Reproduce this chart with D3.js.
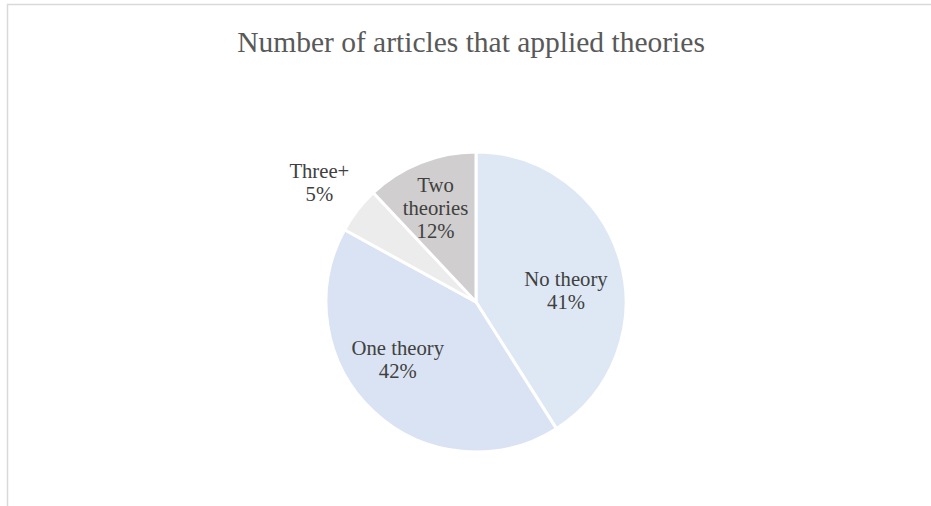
<!DOCTYPE html>
<html>
<head>
<meta charset="utf-8">
<script src="https://cdn.jsdelivr.net/npm/d3@7"></script>
<style>
  body { margin: 0; background: #fff; }
  svg text { font-family: "Liberation Serif", "Times New Roman", serif; }
</style>
</head>
<body>
<div id="chart"></div>
<script>
// data
var categories = ["No theory", "One theory", "Three+", "Two theories"];
var labelLines = [["No theory"], ["One theory"], ["Three+"], ["Two", "theories"]];
var percents = [41, 42, 5, 12];
var colors = ["#dee8f5", "#dae3f3", "#ececec", "#d0cece"];

var width = 931, height = 506;
var cx = 476, cy = 302, radius = 150;

// small label nudges (px) away from the centroid, like excel's best fit
var nudge = [[0, 15], [-14, -11], [-1, 1], [-6, -7]];

var svg = d3.select("#chart").append("svg")
    .attr("width", width)
    .attr("height", height);

// chart frame
svg.append("path")
    .attr("d", "M7.5,506 V4.5 H931")
    .attr("fill", "none")
    .attr("stroke", "#d9d9d9")
    .attr("stroke-width", 1.5);

// title
svg.append("text")
    .attr("x", 471)
    .attr("y", 52)
    .attr("text-anchor", "middle")
    .style("font-size", "29.5px")
    .style("fill", "#595959")
    .text("Number of articles that applied theories");

var pie = d3.pie().sort(null).value(function(d) { return d; });
var arcs = pie(percents);

var arc = d3.arc().innerRadius(0).outerRadius(radius);
var inner = d3.arc().innerRadius(0).outerRadius(radius * 1.25);   // centroid at ~94px
var outer = d3.arc().innerRadius(197).outerRadius(197);

var g = svg.append("g").attr("transform", "translate(" + cx + "," + cy + ")");

g.selectAll(".slice")
    .data(arcs)
  .enter().append("path")
    .attr("class", "slice")
    .attr("d", arc)
    .attr("fill", function(d, i) { return colors[i]; })
    .attr("stroke", "#fff")
    .attr("stroke-width", 3)
    .attr("stroke-linejoin", "round");

// labels
var lineH = 23;
var labels = g.selectAll(".lbl")
    .data(arcs)
  .enter().append("text")
    .attr("class", "lbl")
    .attr("text-anchor", "middle")
    .style("font-size", "20.7px")
    .style("fill", "#404040")
    .attr("transform", function(d, i) {
      var c = (i == 2 ? outer : inner).centroid(d);
      return "translate(" + (c[0] + nudge[i][0]) + "," + (c[1] + nudge[i][1]) + ")";
    });

labels.each(function(d, i) {
  var lines = labelLines[i].concat([percents[i] + "%"]);
  var t = d3.select(this);
  var y0 = -(lines.length - 1) * lineH / 2 + 7;
  lines.forEach(function(s, k) {
    t.append("tspan").attr("x", 0).attr("y", y0 + k * lineH).text(s);
  });
});
</script>
</body>
</html>
